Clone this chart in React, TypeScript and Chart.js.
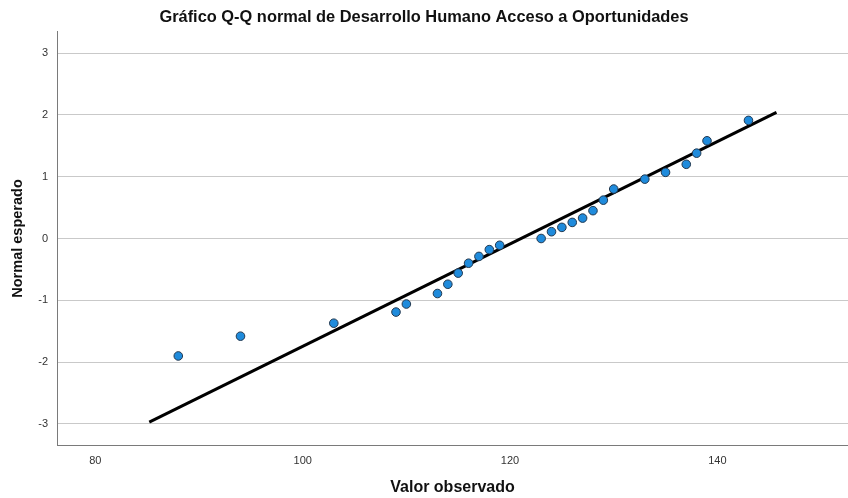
import React, { useEffect, useRef } from "react";
import { Chart, registerables } from "chart.js";

Chart.register(...registerables);

const titleText = "Gráfico Q-Q normal de Desarrollo Humano Acceso a Oportunidades";
const xTitle = "Valor observado";
const yTitle = "Normal esperado";

const observed = [88, 94, 103, 109, 110, 113, 114, 115, 116, 117, 118, 119, 123, 124, 125, 126, 127, 128, 129, 130, 133, 135, 137, 138, 139, 143];
const expectedNormal = [-1.9, -1.58, -1.37, -1.19, -1.06, -0.89, -0.74, -0.56, -0.4, -0.29, -0.18, -0.11, 0.0, 0.11, 0.18, 0.26, 0.33, 0.45, 0.62, 0.8, 0.96, 1.07, 1.2, 1.38, 1.58, 1.91];

const refLineX = [85.2, 145.7];
const refLineY = [-2.97, 2.04];

const xTicks = [80, 100, 120, 140];
const yTicks = [-3, -2, -1, 0, 1, 2, 3];

const FONT = "'Liberation Sans', Arial, sans-serif";

export default function App() {
  const ref = useRef<HTMLCanvasElement | null>(null);

  useEffect(() => {
    if (!ref.current) return;
    const chart = new Chart(ref.current, {
      type: "scatter",
      data: {
        datasets: [
          {
            type: "line",
            data: refLineX.map((x, i) => ({ x, y: refLineY[i] })),
            borderColor: "#000000",
            borderWidth: 3,
            pointRadius: 0,
            fill: false,
            order: 2,
          } as any,
          {
            type: "scatter",
            data: observed.map((x, i) => ({ x, y: expectedNormal[i] })),
            backgroundColor: "#1f8bdc",
            borderColor: "#22384f",
            borderWidth: 1,
            pointRadius: 4.3,
            order: 1,
          },
        ],
      },
      options: {
        responsive: false,
        animation: false,
        devicePixelRatio: 1,
        layout: { autoPadding: false, padding: { left: 0, right: 0, top: 0, bottom: 0 } },
        plugins: {
          legend: { display: false },
          tooltip: { enabled: false },
          title: {
            display: true,
            text: titleText,
            color: "#111111",
            font: { family: FONT, size: 16.4, weight: "bold" },
            padding: { top: 8, bottom: 4.3 },
          },
        },
        scales: {
          x: {
            type: "linear",
            min: 76.3,
            max: 152.6,
            afterBuildTicks: (scale: any) => {
              scale.ticks = xTicks.map((v) => ({ value: v }));
            },
            afterFit: (scale: any) => {
              scale.height = 53;
              scale.paddingRight = 0;
              scale.paddingLeft = 0;
            },
            grid: { display: false, drawTicks: false },
            border: { display: true, color: "#7a7a7a", width: 1 },
            ticks: {
              color: "#333333",
              font: { family: FONT, size: 11 },
              padding: 9,
            },
            title: {
              display: true,
              text: xTitle,
              color: "#111111",
              font: { family: FONT, size: 16, weight: "bold" },
              padding: { top: 0, bottom: 0.4 },
            },
          },
          y: {
            type: "linear",
            min: -3.34,
            max: 3.34,
            afterBuildTicks: (scale: any) => {
              scale.ticks = yTicks.map((v) => ({ value: v }));
            },
            afterFit: (scale: any) => {
              scale.width = 57;
            },
            grid: { color: "#c9c9c9", lineWidth: 1, drawTicks: false },
            border: { display: true, color: "#7a7a7a", width: 1 },
            ticks: {
              color: "#333333",
              font: { family: FONT, size: 11 },
              padding: 9,
            },
            title: {
              display: true,
              text: yTitle,
              color: "#111111",
              font: { family: FONT, size: 14.5, weight: "bold" },
              padding: { top: 9.3, bottom: 0 },
            },
          },
        },
      },
    });
    return () => chart.destroy();
  }, []);

  return (
    <div style={{ position: "fixed", left: 0, top: 0, width: 848, height: 498, background: "#ffffff" }}>
      <canvas ref={ref} width={848} height={498} style={{ display: "block", width: 848, height: 498 }} />
    </div>
  );
}
